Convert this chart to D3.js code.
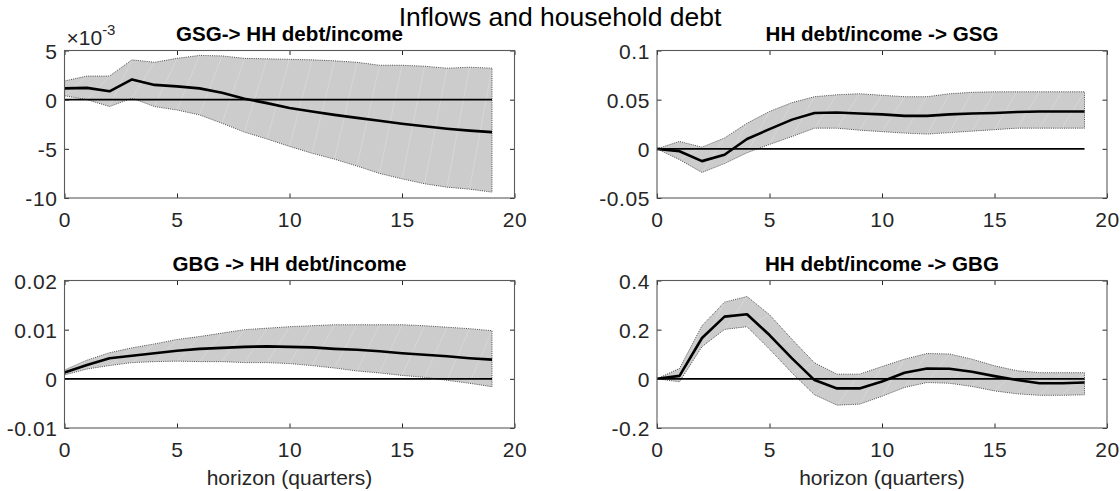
<!DOCTYPE html>
<html>
<head>
<meta charset="utf-8">
<script src="https://cdn.jsdelivr.net/npm/d3@7/dist/d3.min.js"></script>
<style>
  html, body { margin: 0; padding: 0; background: #ffffff; }
  svg { display: block; font-family: "Liberation Sans", Arial, Helvetica, sans-serif; }
</style>
</head>
<body>
<svg id="chart" width="1120" height="491"></svg>
<script>
// Impulse responses over 20 quarters with error bands
const horizon = [0, 1, 2, 3, 4, 5, 6, 7, 8, 9, 10, 11, 12, 13, 14, 15, 16, 17, 18, 19];

const figureTitle = "Inflows and household debt";
const panelTitles = ["GSG-> HH debt/income", "HH debt/income -> GSG", "GBG -> HH debt/income", "HH debt/income -> GBG"];
const xAxisLabel = "horizon (quarters)";

// GSG -> HH debt/income
const gsgHhMean  = [0.00115, 0.0012, 0.00085, 0.00206, 0.0015, 0.00135, 0.00115, 0.0007, 0.0001, -0.00035, -0.00085, -0.0012, -0.00155, -0.00185, -0.00215, -0.00245, -0.0027, -0.00295, -0.00315, -0.0033];
const gsgHhUpper = [0.0019, 0.0024, 0.0024, 0.00405, 0.0038, 0.0042, 0.0045, 0.00445, 0.0042, 0.00415, 0.0041, 0.00405, 0.00395, 0.0038, 0.0035, 0.0035, 0.0034, 0.0032, 0.0033, 0.0032];
const gsgHhLower = [0.0004, 0.0, -0.0007, 0.00015, -0.0007, -0.00105, -0.00155, -0.0024, -0.0033, -0.004, -0.00475, -0.00545, -0.00605, -0.00675, -0.0075, -0.00805, -0.00855, -0.0089, -0.0091, -0.0094];

// HH debt/income -> GSG
const hhGsgMean  = [0, -0.0024, -0.0125, -0.006, 0.010, 0.020, 0.0297, 0.0365, 0.037, 0.036, 0.035, 0.0335, 0.0335, 0.035, 0.036, 0.0365, 0.0375, 0.038, 0.038, 0.038];
const hhGsgUpper = [0, 0.0075, 0.0017, 0.011, 0.026, 0.038, 0.047, 0.053, 0.055, 0.056, 0.0545, 0.053, 0.053, 0.056, 0.0575, 0.058, 0.058, 0.058, 0.058, 0.058];
const hhGsgLower = [0, -0.011, -0.024, -0.015, -0.004, 0.0045, 0.0125, 0.021, 0.021, 0.019, 0.0175, 0.016, 0.015, 0.0165, 0.018, 0.0195, 0.021, 0.021, 0.021, 0.021];

// GBG -> HH debt/income
const gbgHhMean  = [0.0013, 0.0028, 0.0042, 0.0047, 0.0052, 0.0057, 0.0061, 0.0063, 0.0065, 0.0066, 0.0065, 0.0064, 0.0061, 0.0059, 0.0056, 0.0052, 0.0049, 0.0046, 0.0042, 0.0039];
const gbgHhUpper = [0.0018, 0.0038, 0.0053, 0.0063, 0.0071, 0.0080, 0.0086, 0.0093, 0.0100, 0.0103, 0.0106, 0.0108, 0.0110, 0.0110, 0.0110, 0.0110, 0.0108, 0.0105, 0.0102, 0.0098];
const gbgHhLower = [0.0008, 0.0020, 0.0027, 0.0033, 0.0035, 0.0036, 0.0035, 0.0035, 0.0033, 0.0033, 0.0031, 0.0027, 0.0022, 0.0016, 0.0012, 0.0007, 0.0003, -0.0003, -0.0009, -0.0016];

// HH debt/income -> GBG
const hhGbgMean  = [0, 0.012, 0.166, 0.253, 0.263, 0.178, 0.083, -0.005, -0.039, -0.039, -0.011, 0.025, 0.042, 0.041, 0.029, 0.011, -0.005, -0.018, -0.018, -0.015];
const hhGbgUpper = [0, 0.042, 0.216, 0.312, 0.335, 0.261, 0.161, 0.065, 0.019, 0.019, 0.050, 0.080, 0.103, 0.101, 0.080, 0.053, 0.033, 0.025, 0.025, 0.025];
const hhGbgLower = [0, -0.012, 0.131, 0.201, 0.212, 0.121, 0.024, -0.065, -0.107, -0.103, -0.071, -0.035, -0.015, -0.018, -0.031, -0.049, -0.061, -0.067, -0.067, -0.065];

// Axis ticks
const xTicks = [0, 5, 10, 15, 20];
const xTickLabels = ["0", "5", "10", "15", "20"];
const gsgHhYTicks = [-0.01, -0.005, 0, 0.005];
const gsgHhYTickLabels = ["-10", "-5", "0", "5"];
const hhGsgYTicks = [-0.05, 0, 0.05, 0.1];
const hhGsgYTickLabels = ["-0.05", "0", "0.05", "0.1"];
const gbgHhYTicks = [-0.01, 0, 0.01, 0.02];
const gbgHhYTickLabels = ["-0.01", "0", "0.01", "0.02"];
const hhGbgYTicks = [-0.2, 0, 0.2, 0.4];
const hhGbgYTickLabels = ["-0.2", "0", "0.2", "0.4"];

const panels = [
  { title: panelTitles[0], mean: gsgHhMean, upper: gsgHhUpper, lower: gsgHhLower,
    yTicks: gsgHhYTicks, yLabels: gsgHhYTickLabels, exponent: "-3",
    left: 64.5, top: 50.5, width: 450, height: 147.5, xlabel: false },
  { title: panelTitles[1], mean: hhGsgMean, upper: hhGsgUpper, lower: hhGsgLower,
    yTicks: hhGsgYTicks, yLabels: hhGsgYTickLabels,
    left: 657, top: 50.5, width: 450, height: 147.5, xlabel: false },
  { title: panelTitles[2], mean: gbgHhMean, upper: gbgHhUpper, lower: gbgHhLower,
    yTicks: gbgHhYTicks, yLabels: gbgHhYTickLabels,
    left: 64.5, top: 280.5, width: 450, height: 147.5, xlabel: true },
  { title: panelTitles[3], mean: hhGbgMean, upper: hhGbgUpper, lower: hhGbgLower,
    yTicks: hhGbgYTicks, yLabels: hhGbgYTickLabels,
    left: 657, top: 280.5, width: 450, height: 147.5, xlabel: true }
];

const svg = d3.select("#chart");
const TICK_FONT = 21;
const TITLE_FONT = 20.6;
const LABEL_FONT = 21;
const TICK = 4.5;
const frameColor = "#5a5a5a";

svg.append("text")
  .attr("x", 560).attr("y", 26)
  .attr("text-anchor", "middle")
  .attr("font-size", 26.5)
  .attr("fill", "#000")
  .text(figureTitle);

panels.forEach(p => {
  const g = svg.append("g").attr("transform", `translate(${p.left},${p.top})`);
  const x = d3.scaleLinear().domain([xTicks[0], xTicks[xTicks.length - 1]]).range([0, p.width]);
  const y = d3.scaleLinear().domain([p.yTicks[0], p.yTicks[p.yTicks.length - 1]]).range([p.height, 0]);

  const pts = horizon.map((h, i) => ({ h, m: p.mean[i], u: p.upper[i], l: p.lower[i] }));

  // confidence band
  const bandPoly = pts.map(d => [x(d.h), y(d.u)]).concat(pts.slice().reverse().map(d => [x(d.h), y(d.l)]));
  g.append("path")
    .attr("d", "M" + bandPoly.map(c => c.join(",")).join("L") + "Z")
    .attr("fill", "#cccccc")
    .attr("stroke", "none");

  // faint seams across the band
  const seams = g.append("g").attr("stroke", "#dedede").attr("stroke-width", 0.6);
  for (let i = 0; i < pts.length - 1; i++) {
    seams.append("line")
      .attr("x1", x(pts[i].h)).attr("y1", y(pts[i].l))
      .attr("x2", x(pts[i + 1].h)).attr("y2", y(pts[i + 1].u));
  }

  g.append("path")
    .attr("d", "M" + bandPoly.map(c => c.join(",")).join("L") + "Z")
    .attr("fill", "none")
    .attr("stroke", "#3c3c3c")
    .attr("stroke-width", 0.9)
    .attr("stroke-dasharray", "1,1.2");

  // point estimate
  g.append("path")
    .datum(pts)
    .attr("d", d3.line().x(d => x(d.h)).y(d => y(d.m)))
    .attr("fill", "none")
    .attr("stroke", "#000")
    .attr("stroke-width", 2.6)
    .attr("stroke-linejoin", "round");

  // zero reference
  g.append("line")
    .attr("x1", x(horizon[0])).attr("x2", x(horizon[horizon.length - 1]))
    .attr("y1", y(0)).attr("y2", y(0))
    .attr("stroke", "#000")
    .attr("stroke-width", 1.6);

  // axes with inward ticks on all sides
  const xb = g.append("g").attr("transform", `translate(0,${p.height})`)
    .call(d3.axisBottom(x).tickValues(xTicks).tickFormat((d, i) => xTickLabels[i]).tickSizeInner(-TICK).tickSizeOuter(0));
  const xt = g.append("g")
    .call(d3.axisTop(x).tickValues(xTicks).tickFormat("").tickSizeInner(-TICK).tickSizeOuter(0));
  const yl = g.append("g")
    .call(d3.axisLeft(y).tickValues(p.yTicks).tickFormat((d, i) => p.yLabels[i]).tickSizeInner(-TICK).tickSizeOuter(0));
  const yr = g.append("g").attr("transform", `translate(${p.width},0)`)
    .call(d3.axisRight(y).tickValues(p.yTicks).tickFormat("").tickSizeInner(-TICK).tickSizeOuter(0));

  [xb, xt, yl, yr].forEach(a => {
    a.select(".domain").remove();
    a.attr("font-family", null).attr("font-size", null);
    a.selectAll(".tick line").attr("stroke", "#262626").attr("stroke-width", 1);
    a.selectAll(".tick text")
      .attr("font-size", TICK_FONT)
      .attr("letter-spacing", "0.6px")
      .attr("fill", "#262626");
  });
  xb.selectAll(".tick text").attr("y", 29).attr("dy", 0);
  yl.selectAll(".tick text").attr("x", -7).attr("dy", "0.36em");

  g.append("rect")
    .attr("x", 0).attr("y", 0).attr("width", p.width).attr("height", p.height)
    .attr("fill", "none").attr("stroke", frameColor).attr("stroke-width", 1.1);

  // panel title
  g.append("text")
    .attr("x", p.width / 2).attr("y", -10)
    .attr("text-anchor", "middle")
    .attr("font-size", TITLE_FONT).attr("font-weight", "bold")
    .attr("fill", "#000")
    .text(p.title);

  if (p.exponent) {
    const ex = g.append("text").attr("x", 2).attr("y", -5.5)
      .attr("fill", "#262626");
    ex.append("tspan").attr("font-size", TICK_FONT).text("\u00d710");
    ex.append("tspan").attr("font-size", 15).attr("dy", -10).text(p.exponent);
  }

  if (p.xlabel) {
    g.append("text")
      .attr("x", p.width / 2).attr("y", p.height + 57)
      .attr("text-anchor", "middle")
      .attr("font-size", LABEL_FONT).attr("fill", "#262626")
      .text(xAxisLabel);
  }
});
</script>
</body>
</html>
